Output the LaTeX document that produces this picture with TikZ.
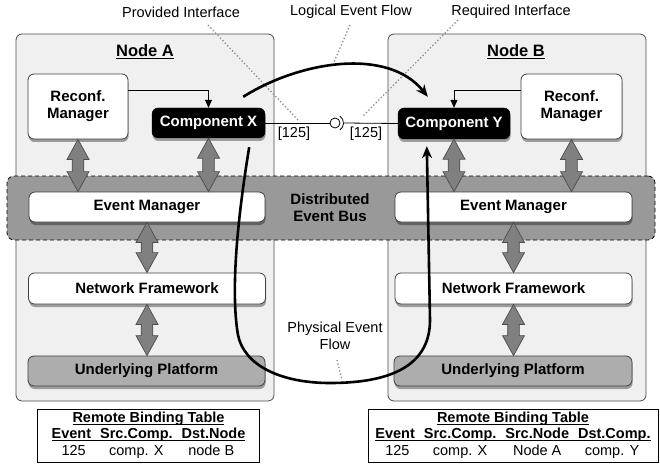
\documentclass[tikz,border=0pt]{standalone}
\usepackage{fontspec}
\setmainfont{Liberation Sans}
\usetikzlibrary{arrows.meta,calc,shadows}

% vertical two-headed "bus" arrow between a node anchor and the node below it
\newcommand\busarrow[3]{%
  \coordinate (#1t) at (#2);
  \coordinate (#1b) at (#2 |- #3.north);
  \draw[dblarr] (#1t) -- ($(#1t)+(11,20)$) -- ($(#1t)+(5.8,20)$)
    -- ($(#1b)+(5.8,-20)$) -- ($(#1b)+(11,-20)$) -- (#1b)
    -- ($(#1b)+(-11,-20)$) -- ($(#1b)+(-5.8,-20)$)
    -- ($(#1t)+(-5.8,20)$) -- ($(#1t)+(-11,20)$) -- cycle;}
% text with a thin underline just below the baseline
\newcommand\hd[1]{\setbox0\hbox{#1}\rlap{\rule[-2.4pt]{\wd0}{0.8pt}}\box0}

\begin{document}
\begin{tikzpicture}[x=1pt,y=-1pt,
  font=\fontsize{14.5}{16}\selectfont,
  shadowed/.style={drop shadow={shadow xshift=0.6pt, shadow yshift=-3pt, opacity=0.35, fill=black}},
  hostbox/.style={draw=black!70, fill=black!6, rounded corners=6pt, line width=0.8pt, inner sep=0pt},
  busband/.style={draw=black, dashed, dash pattern=on 4pt off 3pt, fill=black!40, rounded corners=7pt, line width=0.8pt, inner sep=0pt},
  layerbox/.style={draw=black!75, fill=white, rounded corners=6pt, line width=0.8pt, font=\fontsize{15}{17}\selectfont\bfseries, align=center, inner sep=0pt, shadowed},
  platbox/.style={layerbox, fill=black!32},
  compbox/.style={draw=black, fill=black, rounded corners=6pt, text=white, font=\fontsize{15}{17}\selectfont\bfseries, inner sep=0pt, shadowed},
  dblarr/.style={draw=black!70, fill=black!50, line width=0.7pt, line join=miter},
  flow/.style={line width=2.6pt, -{Stealth[length=12pt, width=10pt]}},
  ctrl/.style={line width=0.8pt, -{Triangle[length=8pt, width=7pt]}},
  wire/.style={line width=0.8pt},
  guide/.style={draw=black!45, line width=1.3pt, dash pattern=on 1.3pt off 2.2pt},
  nodetitle/.style={font=\fontsize{16.5}{18}\selectfont\bfseries},
  tablebox/.style={draw=black, line width=0.8pt, inner sep=0pt, font=\fontsize{14.5}{16.5}\selectfont},
]
\useasboundingbox (0,0) rectangle (660,465);
\fill[white] (0,0) rectangle (660,465);

% host nodes
\node[hostbox, minimum width=258, minimum height=367] (hostA) at (145,217.5) {};
\node[hostbox, minimum width=258, minimum height=367] (hostB) at (517,217.5) {};
\node[nodetitle] (titleA) at (145,52) {\hd{Node A}};
\node[nodetitle] (titleB) at (516,52) {\hd{Node B}};

% distributed event bus band
\node[busband, minimum width=648, minimum height=64] (bus) at (331,208) {};
\node[font=\fontsize{15}{17}\selectfont\bfseries, align=center] (busLbl) at (330,208) {Distributed\\Event Bus};

% node A stack
\node[layerbox, minimum width=100, minimum height=65] (rmA) at (78,106.5) {Reconf.\\Manager};
\node[compbox, minimum width=113, minimum height=30] (compX) at (208.5,123) {Component X};
\node[layerbox, minimum width=236, minimum height=30] (emA) at (147,207) {Event Manager};
\node[layerbox, minimum width=237, minimum height=31] (nfA) at (147,288.5) {Network Framework};
\node[platbox, minimum width=237, minimum height=30] (upA) at (146.5,371) {Underlying Platform};

% node B stack
\node[compbox, minimum width=112, minimum height=31] (compY) at (454,123.5) {Component Y};
\node[layerbox, minimum width=101, minimum height=65] (rmB) at (571.5,106.5) {Reconf.\\Manager};
\node[layerbox, minimum width=237, minimum height=30] (emB) at (513.5,207) {Event Manager};
\node[layerbox, minimum width=237, minimum height=31] (nfB) at (513.5,288.5) {Network Framework};
\node[platbox, minimum width=238, minimum height=30] (upB) at (513,371) {Underlying Platform};

% layer-to-layer arrows
\busarrow{aa}{rmA.south}{emA}
\busarrow{ab}{compX.south}{emA}
\busarrow{ac}{emA.south}{nfA}
\busarrow{ad}{nfA.south}{upA}
\busarrow{ba}{compY.south}{emB}
\busarrow{bb}{rmB.south}{emB}
\busarrow{bc}{emB.south}{nfB}
\busarrow{bd}{nfB.south}{upB}

% reconfiguration control
\draw[ctrl] ($(rmA.east)+(0,-16)$) -| (compX.north);
\draw[ctrl] ($(rmB.west)+(0,-16)$) -| (compY.north);

% assembly connector between the components
\node[draw, circle, fill=white, line width=0.8pt, minimum size=10, inner sep=0pt] (ball) at (335,123) {};
\coordinate (sock) at ($(ball.center)+(8.5,0)$);
\draw[wire] (compX.east) -- (ball.west);
\draw[wire] ($(ball.center)+(-55:8.5)$) arc[start angle=-55, end angle=55, radius=8.5];
\draw[wire] (sock) -- (compY.west);
\node (idxA) at (294,134) {[125]};
\node (idxB) at (366,134) {[125]};

% callout labels
\node (provLbl) at (181,12) {Provided Interface};
\node (logLbl) at (351,12) {Logical Event Flow};
\node (reqLbl) at (511,12) {Required Interface};
\node[align=center, font=\fontsize{14.5}{17}\selectfont] (physLbl) at (335,336) {Physical Event\\Flow};

\coordinate (provA) at (208,25);  \coordinate (provB) at (298,120);
\coordinate (logA) at (350,25);   \coordinate (logB) at (334,62);
\coordinate (reqA) at (458,20);   \coordinate (reqB) at (362,117);
\coordinate (physA) at (337,360); \coordinate (physB) at (342,380);
\draw[guide] (provA) -- (provB);
\draw[guide] (logA) -- (logB);
\draw[guide] (reqA) -- (reqB);
\draw[guide] (physA) -- (physB);

% logical event flow
\coordinate (lfS) at ($(compX.north east)+(-22,-11)$);
\coordinate (lfE) at ($(compY.north west)+(30,-11)$);
\draw[flow] (lfS) .. controls (300,61) and (388,47) .. (lfE);

% physical event flow
\coordinate (pfS) at ($(compX.south east)+(-16,9)$);
\coordinate (pfE) at ($(compY.south west)+(29,7)$);
\draw[flow] (pfS) .. controls (234,240) and (232,300) .. (238,335)
  .. controls (244,365) and (280,383) .. (330,383)
  .. controls (400,383) and (430,360) .. (430,320) -- (pfE);

% remote binding tables
\node[tablebox, minimum width=222, minimum height=53] (tabA) at (148.5,435.5) {%
  \setlength{\tabcolsep}{0pt}%
  \begin{tabular}{ccc}
  \multicolumn{3}{c}{\bfseries\hd{Remote Binding Table}}\\
  \bfseries\hd{Event\hspace{4.5pt}} & \bfseries\hd{\hspace{4.5pt}Src.Comp.\hspace{4.5pt}} & \bfseries\hd{\hspace{4.5pt}Dst.Node}\\
  125 & comp. X & node B
  \end{tabular}};
\node[tablebox, minimum width=290, minimum height=53] (tabB) at (513,435.5) {%
  \setlength{\tabcolsep}{0pt}%
  \begin{tabular}{cccc}
  \multicolumn{4}{c}{\bfseries\hd{Remote Binding Table}}\\
  \bfseries\hd{Event\hspace{4.5pt}} & \bfseries\hd{\hspace{4.5pt}Src.Comp.\hspace{4.5pt}} & \bfseries\hd{\hspace{4.5pt}Src.Node\hspace{4.5pt}} & \bfseries\hd{\hspace{4.5pt}Dst.Comp.}\\
  125 & comp. X & Node A & comp. Y
  \end{tabular}};
\end{tikzpicture}
\end{document}
